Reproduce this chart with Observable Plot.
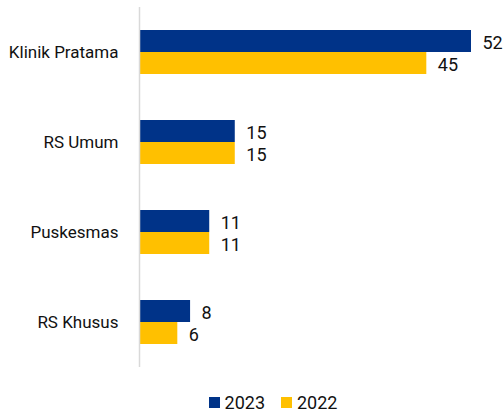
<!DOCTYPE html>
<html><head><meta charset="utf-8">
<script src="https://cdn.jsdelivr.net/npm/d3@7"></script>
<script src="https://cdn.jsdelivr.net/npm/@observablehq/plot@0.6"></script>
<style>
body{margin:0;background:#fff;font-family:"Liberation Sans Narrow","Roboto",sans-serif;}
#legend{display:flex;justify-content:center;align-items:center;gap:0;font-size:18px;color:#111;margin-left:42px;margin-top:14px;}
#legend span.sw{display:inline-block;width:11px;height:11px;margin-right:5px;}
#legend .item{display:flex;align-items:center;margin:0 8px;}
</style></head>
<body>
<div id="chart"></div>
<div id="legend"></div>
<script>
const categories = ["Klinik Pratama", "RS Umum", "Puskesmas", "RS Khusus"];
const series = ["2023", "2022"];
const values2023 = [52, 15, 11, 8];
const values2022 = [45, 15, 11, 6];
const colors = ["#003388", "#FFC000"];

const data = [];
categories.forEach((c, i) => {
  data.push({category: c, year: "2023", value: values2023[i]});
  data.push({category: c, year: "2022", value: values2022[i]});
});

const chart = Plot.plot({
  width: 504,
  height: 378,
  marginTop: 7,
  marginBottom: 11,
  marginLeft: 139,
  marginRight: 33,
  style: {fontFamily: '"Liberation Sans Narrow","Roboto",sans-serif', fontSize: "16px", color: "#111"},
  x: {domain: [0, 52], axis: null},
  y: {domain: series, axis: null, paddingInner: 0, paddingOuter: 0.96},
  fy: {domain: categories, padding: 0, label: null, axis: null},
  color: {domain: series, range: colors},
  marks: [
    Plot.barX(data, {fy: "category", y: "year", x: "value", fill: "year"}),
    Plot.ruleX([0], {stroke: "#d9d9d9", strokeWidth: 1.5}),
    Plot.text(data, {fy: "category", y: "year", x: "value", text: d => String(d.value), textAnchor: "start", dx: 11, dy: 2, fontSize: 18, fill: "#111"}),
    Plot.axisFy({anchor: "left", tickSize: 0, tickPadding: 21, fontSize: 17, label: null, fill: "#111"})
  ]
});
document.getElementById("chart").appendChild(chart);

const legend = document.getElementById("legend");
series.forEach((s, i) => {
  const it = document.createElement("div");
  it.className = "item";
  it.innerHTML = `<span class="sw" style="background:${colors[i]}"></span>${s}`;
  legend.appendChild(it);
});
</script>
</body></html>
